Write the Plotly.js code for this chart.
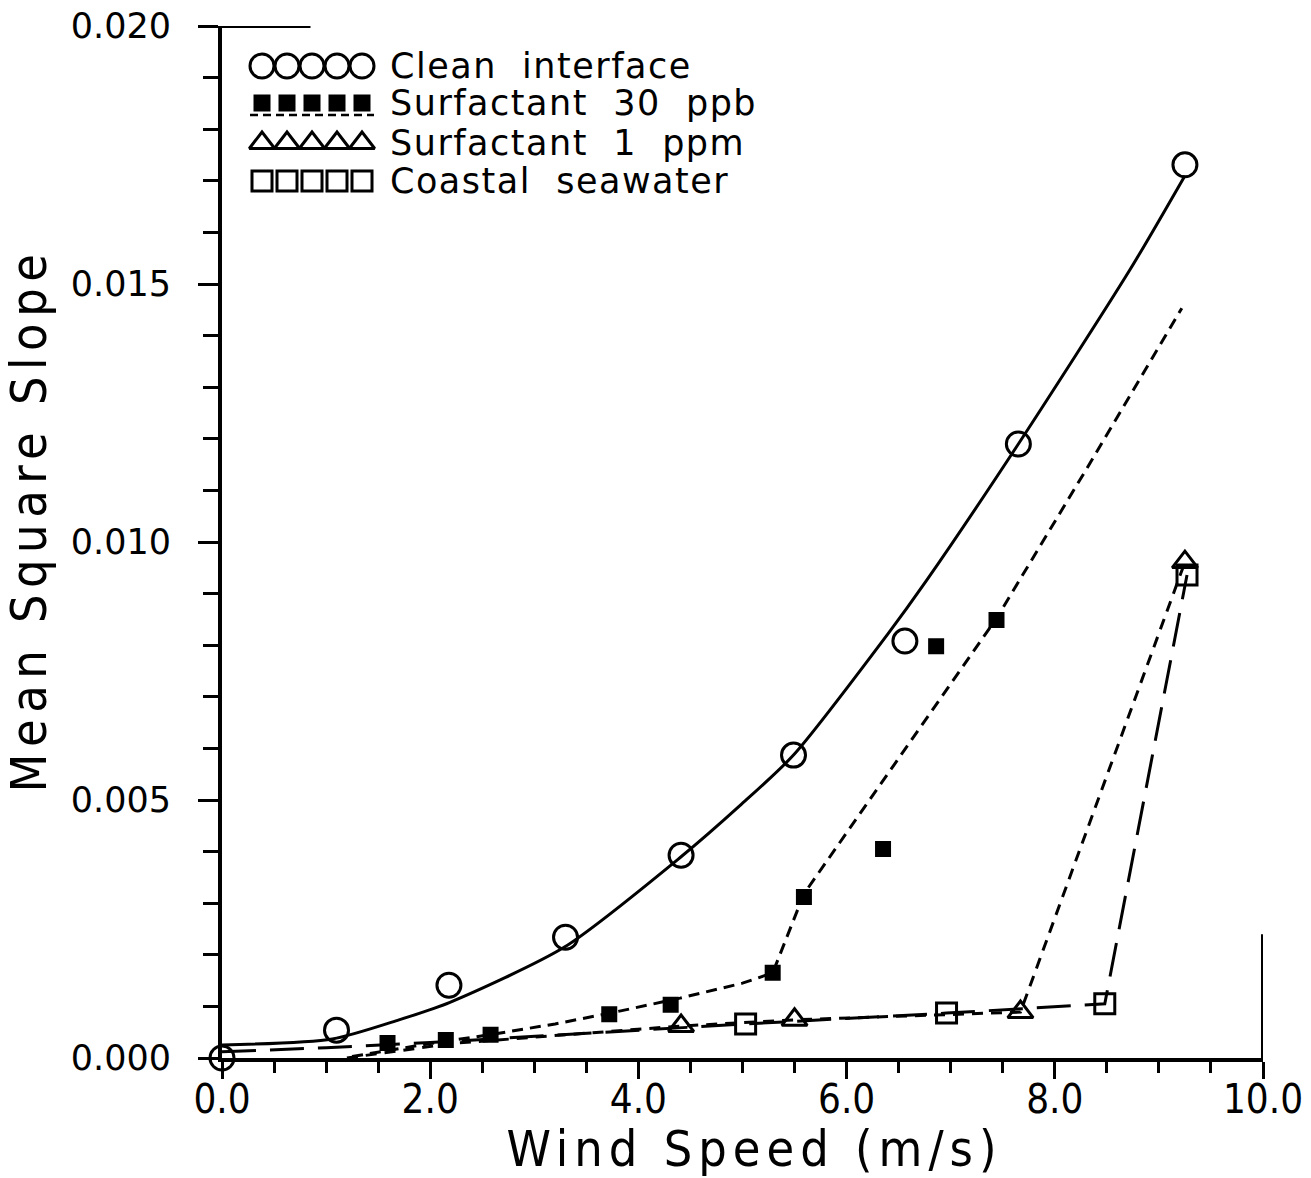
<!DOCTYPE html>
<html>
<head>
<meta charset="utf-8">
<script src="https://cdn.plot.ly/plotly-3.0.1.min.js"></script>
<style>
  html, body { margin: 0; padding: 0; background: #fff; }
  #chart { width: 1311px; height: 1178px; }
  .xtitle { letter-spacing: 6px; translate: 12px 0; }
  .ytitle { letter-spacing: 6.5px; translate: 0 -22px; }
  .annotation-text { letter-spacing: 1.5px; }
</style>
</head>
<body>
<div id="chart"></div>
<script>
// ---- data ----
const cleanX = [0.0, 1.10, 2.18, 3.30, 4.41, 5.49, 6.56, 7.65, 9.25];
const cleanY = [0.0, 0.00054, 0.00141, 0.00234, 0.00393, 0.00587, 0.00808, 0.01190, 0.01731];
const cleanFitX = [0.0, 1.06, 1.70, 2.19, 3.29, 4.41, 4.98, 5.49, 6.39, 6.77, 7.65, 8.72, 9.25];
const cleanFitY = [0.00025, 0.00037, 0.00074, 0.00108, 0.00215, 0.0039, 0.0049, 0.00587, 0.0082, 0.00926, 0.0119, 0.01527, 0.0171];

const s30X = [1.59, 2.15, 2.58, 3.72, 4.31, 5.29, 5.59, 6.35, 6.86, 7.44];
const s30Y = [0.00029, 0.00035, 0.00045, 0.00085, 0.00103, 0.00165, 0.00312, 0.00405, 0.00798, 0.00849];
const s30FitX = [1.25, 2.0, 2.6, 3.2, 3.8, 4.4, 5.0, 5.29, 5.59, 6.5, 7.44, 8.3, 9.22];
const s30FitY = [0.00003, 0.00028, 0.00046, 0.00066, 0.0009, 0.00116, 0.00145, 0.00165, 0.00318, 0.0058, 0.00852, 0.0114, 0.01453];

const s1X = [4.41, 5.50, 7.67, 9.25];
const s1Y = [0.00062, 0.00074, 0.00089, 0.00961];
const s1FitX = [1.2, 2.2, 3.3, 4.41, 5.5, 7.67, 9.25];
const s1FitY = [0.0, 0.00028, 0.00045, 0.00062, 0.00074, 0.00089, 0.00961];

const coastX = [5.03, 6.96, 8.48, 9.27];
const coastY = [0.00066, 0.00087, 0.00105, 0.00936];
const coastFitX = [0.0, 1.0, 2.0, 3.0, 4.0, 5.03, 6.96, 8.48, 9.27];
const coastFitY = [0.00012, 0.0002, 0.0003, 0.00042, 0.00054, 0.00066, 0.00087, 0.00105, 0.00936];

const seriesNames = ['Clean  interface', 'Surfactant  30  ppb', 'Surfactant  1  ppm', 'Coastal  seawater'];
const xTickVals = [0, 2, 4, 6, 8, 10];
const xTickText = ['0.0', '2.0', '4.0', '6.0', '8.0', '10.0'];
const yTickVals = [0, 0.005, 0.010, 0.015, 0.020];
const yTickText = ['0.000', '0.005', '0.010', '0.015', '0.020'];

// ---- styles ----
const K = '#000';
const NARROW = 'Liberation Sans Narrow, DejaVu Sans Condensed, sans-serif';
const symbols = ['circle-open', 'square', 'triangle-up-open', 'square-open'];
const msizes = [24, 13, 22, 20];

const traces = [];
// fit lines
traces.push({x: cleanFitX, y: cleanFitY, mode: 'lines', line: {color: K, width: 3, shape: 'spline', smoothing: 0.7}, cliponaxis: false, hoverinfo: 'skip'});
traces.push({x: s30FitX, y: s30FitY, mode: 'lines', line: {color: K, width: 3, dash: '11px,7px'}, cliponaxis: false, hoverinfo: 'skip'});
traces.push({x: s1FitX, y: s1FitY, mode: 'lines', line: {color: K, width: 3, dash: '11px,8px'}, cliponaxis: false, hoverinfo: 'skip'});
traces.push({x: coastFitX, y: coastFitY, mode: 'lines', line: {color: K, width: 3, dash: '34px,14px'}, cliponaxis: false, hoverinfo: 'skip'});
// data markers
const mx = [cleanX, s30X, s1X, coastX];
const my = [cleanY, s30Y, s1Y, coastY];
for (let i = 0; i < 4; i++) {
  traces.push({x: mx[i], y: my[i], mode: 'markers', name: seriesNames[i],
    marker: {symbol: symbols[i], size: msizes[i], color: K, line: {color: K, width: 3}},
    cliponaxis: false});
}

// ---- legend drawn on a pixel-space overlay axis ----
const L = {x0: 262, dx: 25, rows: [66, 103, 143, 181], textX: 388};
const annotations = [];
for (let r = 0; r < 4; r++) {
  const lx = [], ly = [];
  for (let k = 0; k < 5; k++) { lx.push(L.x0 + k * L.dx); ly.push(L.rows[r]); }
  traces.push({x: lx, y: ly, xaxis: 'x2', yaxis: 'y2', mode: 'markers', hoverinfo: 'skip',
    marker: {symbol: symbols[r], size: msizes[r] + (r === 1 ? 1 : 0), color: K, line: {color: K, width: 3}}, cliponaxis: false});
  annotations.push({xref: 'x2', yref: 'y2', x: L.textX, y: L.rows[r], xanchor: 'left', yanchor: 'middle',
    text: seriesNames[r], showarrow: false, font: {family: 'DejaVu Sans, sans-serif', size: 35, color: K}});
}
// dashed sample line under the filled squares
traces.push({x: [L.x0 - 12, L.x0 + 4 * L.dx + 12], y: [L.rows[1] + 12, L.rows[1] + 12], xaxis: 'x2', yaxis: 'y2',
  mode: 'lines', line: {color: K, width: 2.5, dash: '8px,5px'}, hoverinfo: 'skip', cliponaxis: false});

const layout = {
  width: 1311, height: 1178,
  margin: {l: 222, r: 48, t: 26, b: 120},
  paper_bgcolor: '#fff', plot_bgcolor: '#fff',
  showlegend: false,
  xaxis: {
    range: [0, 10], showgrid: false, zeroline: false,
    showline: true, linecolor: K, linewidth: 4,
    ticks: 'outside', ticklen: 17, tickwidth: 3, tickcolor: K,
    tickvals: xTickVals, ticktext: xTickText,
    ticklabeloverflow: 'allow', ticklabelstandoff: -14,
    tickfont: {family: NARROW, size: 40, color: K},
    minor: {dtick: 0.5, ticklen: 11, tickwidth: 3, tickcolor: K, ticks: 'outside'},
    title: {text: 'Wind Speed (m/s)', standoff: 22,
      font: {family: NARROW, size: 50, color: K}}
  },
  yaxis: {
    range: [0, 0.020], showgrid: false, zeroline: false,
    showline: true, linecolor: K, linewidth: 4,
    ticks: 'outside', ticklen: 20, tickwidth: 3, tickcolor: K,
    tickvals: yTickVals, ticktext: yTickText,
    ticklabelstandoff: 20,
    tickfont: {family: 'DejaVu Sans, sans-serif', size: 35, color: K},
    minor: {dtick: 0.001, ticklen: 15, tickwidth: 3, tickcolor: K, ticks: 'outside'},
    title: {text: 'Mean Square Slope', standoff: 16,
      font: {family: NARROW, size: 50, color: K}}
  },
  xaxis2: {overlaying: 'x', anchor: 'y2', range: [222, 1263], visible: false, fixedrange: true},
  yaxis2: {overlaying: 'y', anchor: 'x2', range: [1058, 26], visible: false, fixedrange: true},
  annotations: annotations,
  shapes: [
    {type: 'line', xref: 'x', yref: 'y', x0: 10, x1: 10, y0: 0, y1: 0.0024, line: {color: K, width: 4}},
    {type: 'line', xref: 'x', yref: 'y', x0: 0, x1: 0.85, y0: 0.020, y1: 0.020, line: {color: K, width: 4}}
  ]
};

Plotly.newPlot('chart', traces, layout, {staticPlot: true, displayModeBar: false});
</script>
</body>
</html>
